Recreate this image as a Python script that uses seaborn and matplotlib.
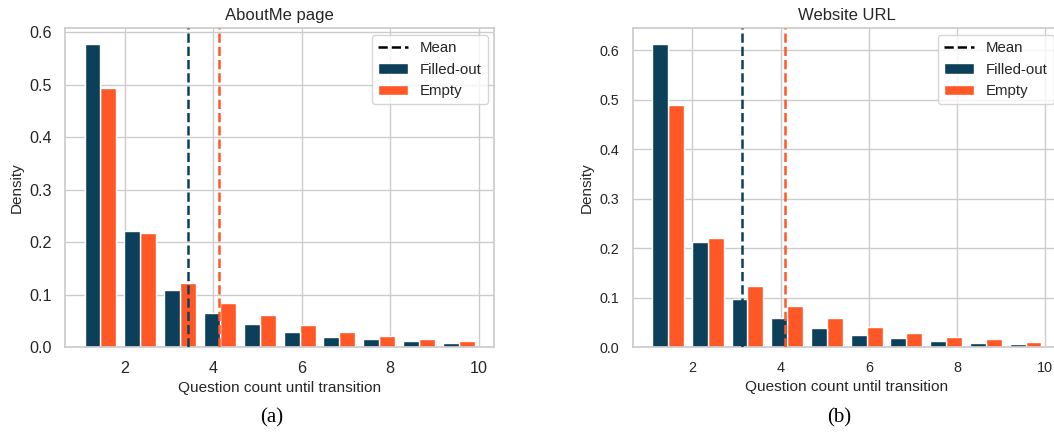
import numpy as np
import pandas as pd
import seaborn as sns
import matplotlib
matplotlib.use("Agg")
import matplotlib.pyplot as plt
from matplotlib.lines import Line2D
from matplotlib.patches import Patch

# ---------------- data ----------------
questions = list(range(1, 11))
groups = ["Filled-out", "Empty"]

aboutme_filled = [0.578, 0.222, 0.1086, 0.0654, 0.0438, 0.0292, 0.0203, 0.0152, 0.0114, 0.0083]
aboutme_empty = [0.493, 0.218, 0.1225, 0.085, 0.0616, 0.0419, 0.0298, 0.0222, 0.0165, 0.0127]
aboutme_means = [3.42, 4.13]

website_filled = [0.614, 0.212, 0.0979, 0.0587, 0.0391, 0.0256, 0.0182, 0.0128, 0.0088, 0.0067]
website_empty = [0.4907, 0.2207, 0.1235, 0.0837, 0.0587, 0.0405, 0.029, 0.0216, 0.0162, 0.0115]
website_means = [3.12, 4.11]

titles = ["AboutMe page", "Website URL"]
captions = ["(a)", "(b)"]

colors = {"Filled-out": "#0b3f5a", "Empty": "#ff5826"}

# ---------------- style ----------------
sns.set_theme(style="whitegrid")
plt.rcParams["font.family"] = ["Liberation Sans", "DejaVu Sans"]

fig = plt.figure(figsize=(10.54, 4.32), dpi=100)
ax_left = fig.add_axes([0.0617, 0.196, 0.4073, 0.7384])
ax_right = fig.add_axes([0.6003, 0.196, 0.4062, 0.7384])


def make_df(filled, empty):
    return pd.DataFrame({
        "q": questions + questions,
        "density": filled + empty,
        "group": [groups[0]] * len(questions) + [groups[1]] * len(questions),
    })


panels = [
    (ax_left, make_df(aboutme_filled, aboutme_empty), aboutme_means, 11.6, 0),
    (ax_right, make_df(website_filled, website_empty), website_means, 10.4, 1),
]

for ax, df, means, tick_size, i in panels:
    sns.histplot(data=df, x="q", weights="density", hue="group", hue_order=groups,
                 palette=colors, bins=10, binrange=(1, 10), multiple="dodge",
                 shrink=0.8, stat="count", alpha=1, legend=False, ax=ax)
    for g, m in zip(groups, means):
        ax.axvline(m, color=colors[g], linestyle="--", linewidth=1.8, zorder=5)
    ax.set_title(titles[i], fontsize=12, color="0.15")
    ax.set_xlabel("Question count until transition", fontsize=11.1, color="0.15")
    ax.set_ylabel("Density", fontsize=11, color="0.15")
    ax.set_xticks([2, 4, 6, 8, 10])
    ax.tick_params(axis="both", labelsize=tick_size, colors="0.15")
    handles = [Line2D([0], [0], color="black", linestyle="--", linewidth=1.8),
               Patch(facecolor=colors[groups[0]]),
               Patch(facecolor=colors[groups[1]])]
    ax.legend(handles, ["Mean"] + groups, loc="upper right", fontsize=10.8,
              borderaxespad=0.45)

fig.text(0.258, 0.011, captions[0], ha="center", va="bottom",
         fontsize=15, family="Liberation Serif", color="black")
fig.text(0.796, 0.011, captions[1], ha="center", va="bottom",
         fontsize=15, family="Liberation Serif", color="black")

fig.savefig("out.png", dpi=100)
